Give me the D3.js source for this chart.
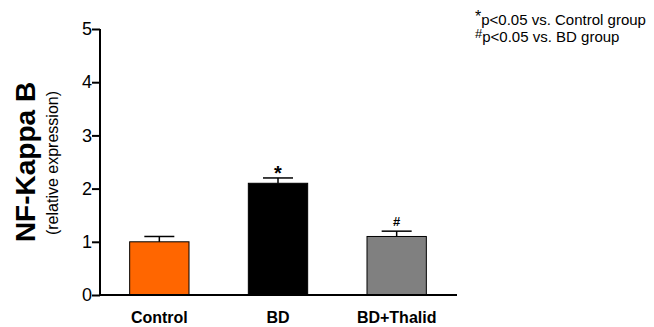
<!DOCTYPE html>
<html>
<head>
<meta charset="utf-8">
<script src="https://cdn.jsdelivr.net/npm/d3@7"></script>
<style>
  body { margin: 0; background: #fff; }
  text { font-family: Arial, "Liberation Sans", sans-serif; }
</style>
</head>
<body>
<div id="chart"></div>
<script>
var groups = ["Control", "BD", "BD+Thalid"];
var means = [1.0, 2.1, 1.1];
var errors = [0.1, 0.1, 0.1];
var marks = ["", "*", "#"];
var barColors = ["#ff6600", "#000000", "#808080"];
var yTicks = [0, 1, 2, 3, 4, 5];
var notes = [["*", "p<0.05 vs. Control group"], ["#", "p<0.05 vs. BD group"]];

var width = 654, height = 327;

var svg = d3.select("#chart")
    .append("svg")
    .attr("width", width)
    .attr("height", height);

var x = d3.scaleBand()
    .domain(groups)
    .range([100, 456])
    .paddingInner(0.5)
    .paddingOuter(0.25);

var y = d3.scaleLinear()
    .domain([0, 5])
    .range([295, 29]);

// bars
svg.selectAll(".bar")
    .data(groups)
    .enter()
    .append("rect")
    .attr("class", "bar")
    .attr("x", function(d) { return x(d); })
    .attr("y", function(d, i) { return y(means[i]); })
    .attr("width", x.bandwidth())
    .attr("height", function(d, i) { return y(0) - y(means[i]); })
    .attr("fill", function(d, i) { return barColors[i]; })
    .attr("stroke", "#000")
    .attr("stroke-width", 1);

// error bars (upper only)
var capW = 30;
groups.forEach(function(g, i) {
    var cx = x(g) + x.bandwidth() / 2;
    var top = y(means[i] + errors[i]);
    svg.append("line")
        .attr("x1", cx).attr("x2", cx)
        .attr("y1", y(means[i])).attr("y2", top)
        .attr("stroke", "#000").attr("stroke-width", 1.5);
    svg.append("line")
        .attr("x1", cx - capW / 2).attr("x2", cx + capW / 2)
        .attr("y1", top).attr("y2", top)
        .attr("stroke", "#000").attr("stroke-width", 1.5);
    if (marks[i]) {
        svg.append("text")
            .attr("x", cx)
            .attr("y", marks[i] == "*" ? top + 2 : top - 5)
            .attr("text-anchor", "middle")
            .style("font-size", marks[i] == "*" ? "20px" : "13px")
            .style("font-weight", "bold")
            .text(marks[i]);
    }
});

// y axis
var yAxis = svg.append("g")
    .attr("transform", "translate(100,0)")
    .call(d3.axisLeft(y).tickValues(yTicks).tickSize(8).tickPadding(0).tickFormat(d3.format("d")));
yAxis.select(".domain").attr("stroke-width", 2).attr("d", "M0," + y(0) + "V" + y(5));
yAxis.selectAll(".tick line").attr("stroke-width", 2);
yAxis.selectAll(".tick text")
    .style("font-size", "18px")
    .style("font-family", "Arial, 'Liberation Sans', sans-serif")
    .attr("fill", "#000");

// x axis
var xAxis = svg.append("g")
    .attr("transform", "translate(0," + y(0) + ")")
    .call(d3.axisBottom(x).tickSize(0).tickPadding(17));
xAxis.select(".domain").attr("stroke-width", 2).attr("d", "M100,0H457");
xAxis.selectAll(".tick text")
    .style("font-size", "16px")
    .style("font-weight", "bold")
    .style("font-family", "Arial, 'Liberation Sans', sans-serif")
    .attr("fill", "#000");

// y titles
svg.append("text")
    .attr("transform", "translate(35,162) rotate(-90)")
    .attr("text-anchor", "middle")
    .style("font-size", "28px")
    .style("font-weight", "bold")
    .text("NF-Kappa B");
svg.append("text")
    .attr("transform", "translate(58,163) rotate(-90)")
    .attr("text-anchor", "middle")
    .style("font-size", "16px")
    .text("(relative expression)");

// significance notes
var note = svg.selectAll(".note")
    .data(notes)
    .enter()
    .append("text")
    .attr("class", "note")
    .attr("x", 475)
    .attr("y", function(d, i) { return 25 + i * 17; })
    .style("font-size", "15px");
note.append("tspan")
    .attr("dy", function(d) { return d[0] == "*" ? "-3" : "-4"; })
    .style("font-size", function(d) { return d[0] == "*" ? "16px" : "13px"; })
    .text(function(d) { return d[0]; });
note.append("tspan")
    .attr("dy", function(d) { return d[0] == "*" ? "3" : "4"; })
    .text(function(d) { return d[1]; });
</script>
</body>
</html>
